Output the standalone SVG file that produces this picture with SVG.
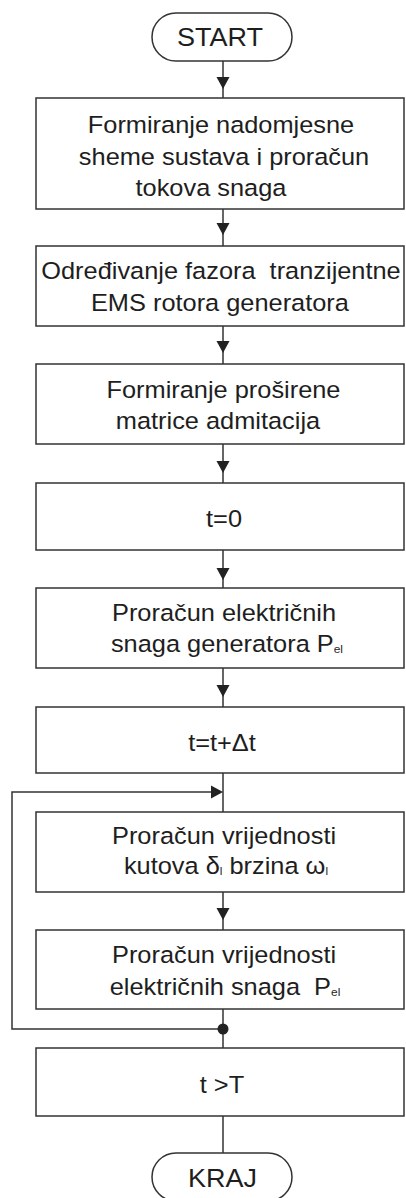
<svg xmlns="http://www.w3.org/2000/svg" xmlns:xlink="http://www.w3.org/1999/xlink" width="406" height="1198" viewBox="0 0 406 1198">
<style>
.box{fill:#fff;stroke:#333;stroke-width:1.5}
.ln{fill:none;stroke:#333;stroke-width:1.5}
.t{font-family:"Liberation Sans",Arial,sans-serif;font-size:23.5px;fill:#1e1e1e;text-anchor:middle}
.tt{font-size:25px}
.sub{font-size:11px}
</style>
<defs>
<path id="ah" d="M0,0 L-6.5,-12 L6.5,-12 Z" fill="#222"/>
</defs>
<rect width="406" height="1198" fill="#fff"/>
<g id="connectors">
<line class="ln" x1="223" y1="61" x2="223" y2="98"/>
<use xlink:href="#ah" x="223" y="89"/>
<line class="ln" x1="223" y1="209" x2="223" y2="246"/>
<use xlink:href="#ah" x="223" y="235"/>
<line class="ln" x1="223" y1="326" x2="223" y2="364"/>
<use xlink:href="#ah" x="223" y="353"/>
<line class="ln" x1="223" y1="444" x2="223" y2="483"/>
<use xlink:href="#ah" x="223" y="473"/>
<line class="ln" x1="223" y1="550" x2="223" y2="588"/>
<use xlink:href="#ah" x="223" y="580"/>
<line class="ln" x1="223" y1="668" x2="223" y2="707"/>
<use xlink:href="#ah" x="223" y="697"/>
<line class="ln" x1="223" y1="773" x2="223" y2="812"/>
<line class="ln" x1="223" y1="892" x2="223" y2="930"/>
<use xlink:href="#ah" x="223" y="920"/>
<line class="ln" x1="223" y1="1009" x2="223" y2="1048"/>
<path class="ln" d="M223,1029 H12 V792 H212"/>
<use xlink:href="#ah" transform="translate(223,792) rotate(-90)"/>
<circle cx="223" cy="1029" r="5.5" fill="#222"/>
<line class="ln" x1="223" y1="1116" x2="223" y2="1153"/>
</g>
<g id="start">
<rect class="box" x="152" y="13" width="140" height="48" rx="24" ry="24"/>
<text class="t tt" transform="translate(220,46) scale(1.08,1)" x="0" y="0">START</text>
</g>
<g id="n1">
<rect class="box" x="36" y="98" width="368" height="111"/>
<text class="t" transform="translate(221,0) scale(1.08,1)"><tspan x="0" y="133">Formiranje nadomjesne</tspan><tspan x="2.8" y="165">sheme sustava i proračun</tspan><tspan x="-9.3" y="196">tokova snaga</tspan></text>
</g>
<g id="n2">
<rect class="box" x="36" y="246" width="368" height="80"/>
<text class="t" xml:space="preserve" transform="translate(221,0) scale(1.08,1)"><tspan x="0" y="279.5">Određivanje fazora  tranzijentne</tspan><tspan x="-1" y="311">EMS rotora generatora</tspan></text>
</g>
<g id="n3">
<rect class="box" x="36" y="364" width="368" height="80"/>
<text class="t" transform="translate(221,0) scale(1.08,1)"><tspan x="2.3" y="398">Formiranje proširene</tspan><tspan x="-2.8" y="429">matrice admitacija</tspan></text>
</g>
<g id="n4">
<rect class="box" x="36" y="483" width="368" height="67"/>
<text class="t" transform="translate(221,0) scale(1.08,1)"><tspan x="2.8" y="527">t=0</tspan></text>
</g>
<g id="n5">
<rect class="box" x="36" y="588" width="368" height="80"/>
<text class="t" transform="translate(221,0) scale(1.08,1)"><tspan x="2.8" y="621">Proračun električnih</tspan><tspan x="5.5" y="652">snaga generatora P</tspan><tspan class="sub" dy="1">el</tspan></text>
</g>
<g id="n6">
<rect class="box" x="36" y="707" width="368" height="66"/>
<text class="t" transform="translate(221,0) scale(1.08,1)"><tspan x="0.9" y="751">t=t+Δt</tspan></text>
</g>
<g id="n7">
<rect class="box" x="36" y="812" width="368" height="80"/>
<text class="t" transform="translate(221,0) scale(1.08,1)"><tspan x="2.8" y="844">Proračun vrijednosti</tspan><tspan x="4.6" y="874">kutova δ</tspan><tspan class="sub" dy="1">l</tspan><tspan dy="-1"> brzina ω</tspan><tspan class="sub" dy="1">l</tspan></text>
</g>
<g id="n8">
<rect class="box" x="36" y="930" width="368" height="79"/>
<text class="t" xml:space="preserve" transform="translate(221,0) scale(1.08,1)"><tspan x="2.8" y="963">Proračun vrijednosti</tspan><tspan x="3.7" y="995">električnih snaga  P</tspan><tspan class="sub" dy="1">el</tspan></text>
</g>
<g id="n9">
<rect class="box" x="36" y="1048" width="368" height="68"/>
<text class="t" transform="translate(221,0) scale(1.08,1)"><tspan x="0.9" y="1093">t &gt;T</tspan></text>
</g>
<g id="end">
<rect class="box" x="152" y="1153" width="140" height="48" rx="24" ry="24"/>
<text class="t tt" transform="translate(222.5,1187) scale(1.08,1)" x="0" y="0">KRAJ</text>
</g>
</svg>
